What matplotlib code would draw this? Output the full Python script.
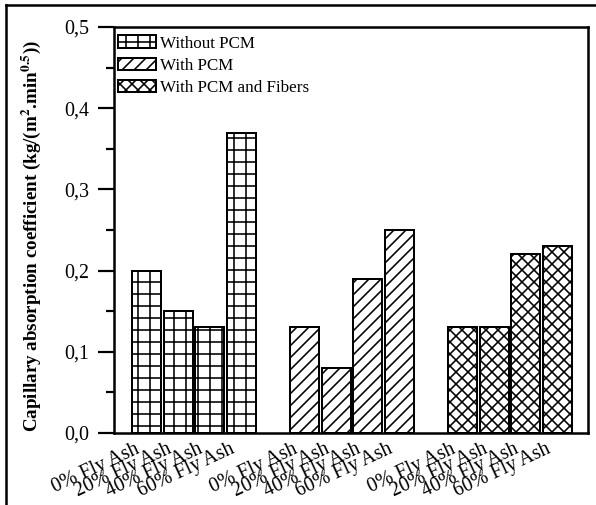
import matplotlib
matplotlib.use("Agg")
import matplotlib.pyplot as plt
import matplotlib.transforms as mtransforms
from matplotlib.lines import Line2D
import numpy as np

plt.rcParams['font.family'] = ['Liberation Serif', 'DejaVu Serif']
plt.rcParams['mathtext.fontset'] = 'stix'
plt.rcParams['hatch.linewidth'] = 1.6

series = ["Without PCM", "With PCM", "With PCM and Fibers"]
mixes = ["0% Fly Ash", "20% Fly Ash", "40% Fly Ash", "60% Fly Ash"]
without_pcm = [0.20, 0.15, 0.13, 0.37]
with_pcm = [0.13, 0.08, 0.19, 0.25]
with_pcm_fibers = [0.13, 0.13, 0.22, 0.23]
hatches = ['+', '//', 'xx']
yticks = [0.0, 0.1, 0.2, 0.3, 0.4, 0.5]
ytick_labels = ["0,0", "0,1", "0,2", "0,3", "0,4", "0,5"]

DPI = 72
fig = plt.figure(figsize=(596 / DPI, 505 / DPI), dpi=DPI)
ax = fig.add_axes([114 / 596, 1 - 433 / 505, (588 - 114) / 596, (433 - 27) / 505])

all_vals = [without_pcm, with_pcm, with_pcm_fibers]
positions = []
labels = []
for g, vals in enumerate(all_vals):
    x = g * 5 + np.arange(len(vals))
    ax.bar(x, vals, width=0.92, facecolor='white', edgecolor='black',
           linewidth=2.0, hatch=hatches[g], label=series[g])
    positions.extend(x)
    labels.extend(mixes)

ax.set_xlim(-1.03, 13.97)
ax.set_ylim(0, 0.5)
ax.set_xticks(positions)
ax.set_xticklabels(labels, rotation=25, ha='right', va='top',
                   rotation_mode='anchor', fontsize=20)
ax.tick_params(axis='x', length=0, pad=7)
offset = mtransforms.ScaledTranslation(-12 / 72, 0, fig.dpi_scale_trans)
for lab in ax.get_xticklabels():
    lab.set_transform(lab.get_transform() + offset)

ax.set_yticks(yticks)
ax.set_yticklabels(ytick_labels, fontsize=20)
ax.set_yticks(np.arange(0.05, 0.5, 0.1), minor=True)
ax.tick_params(axis='y', which='major', direction='out', length=16, width=2.2, pad=9)
ax.tick_params(axis='y', which='minor', direction='out', length=8, width=2.2)
for s in ax.spines.values():
    s.set_linewidth(2.5)

ax.set_ylabel(r'Capillary absorption coefficient (kg/(m$^{\mathbf{2}}$.min$^{\mathbf{0.5}}$))',
              fontsize=19, fontweight='bold')
ax.yaxis.set_label_coords(-0.150, 0.485)

leg = ax.legend(loc='upper left', bbox_to_anchor=(-0.01, 1.0), frameon=False,
                fontsize=17, handlelength=2.25, handleheight=0.75,
                handletextpad=0.25, labelspacing=0.35, borderaxespad=0.3,
                borderpad=0.2)

# outer frame of the figure (top and left edges)
fig.add_artist(Line2D([6 / 596, 1.0], [1 - 5 / 505, 1 - 5 / 505],
                      transform=fig.transFigure, color='black', linewidth=2.5))
fig.add_artist(Line2D([6 / 596, 6 / 596], [0.0, 1 - 5 / 505],
                      transform=fig.transFigure, color='black', linewidth=2.5))

fig.savefig('out.png', dpi=DPI, facecolor='white')
